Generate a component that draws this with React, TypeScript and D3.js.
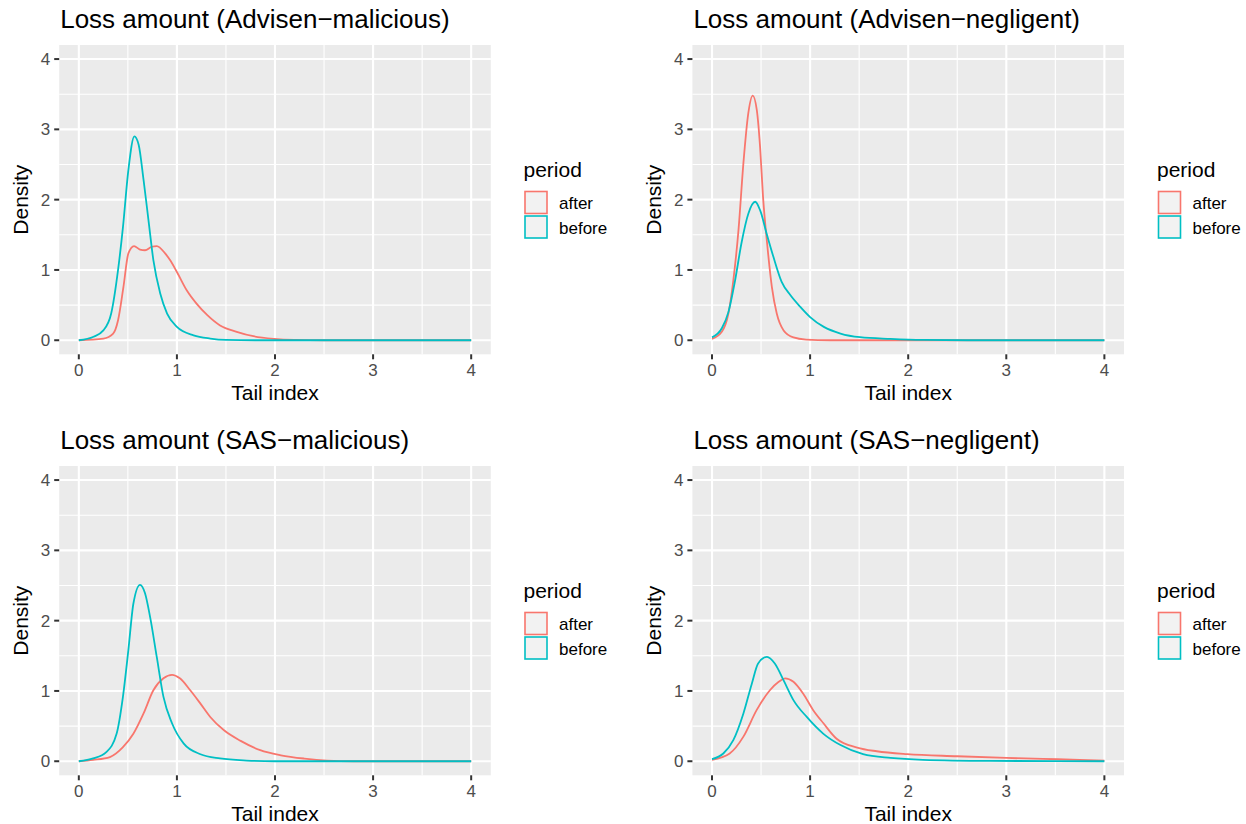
import React from "react";
import * as d3 from "d3";

type Pt = [number, number];

const titles = [
  "Loss amount (Advisen\u2212malicious)",
  "Loss amount (Advisen\u2212negligent)",
  "Loss amount (SAS\u2212malicious)",
  "Loss amount (SAS\u2212negligent)",
];

const seriesNames = ["after", "before"];
const seriesColors = ["#F8766D", "#00BFC4"];
const majorTicks = [0, 1, 2, 3, 4];
const minorTicks = [0.5, 1.5, 2.5, 3.5];

const advMalAfter: Pt[] = [
  [0, 0], [0.25, 0.024], [0.35, 0.095], [0.4, 0.285], [0.455, 0.76], [0.505, 1.235],
  [0.563, 1.34], [0.624, 1.29], [0.675, 1.28], [0.744, 1.33], [0.795, 1.34], [0.88, 1.235],
  [0.93, 1.14], [1.0, 0.97], [1.1, 0.71], [1.2, 0.52], [1.31, 0.356], [1.44, 0.21],
  [1.61, 0.12], [1.78, 0.057], [1.99, 0.02], [2.2, 0.005], [2.5, 0], [4, 0],
];
const advMalBefore: Pt[] = [
  [0, 0], [0.15, 0.05], [0.25, 0.14], [0.33, 0.38], [0.4, 1.0], [0.45, 1.61], [0.505, 2.42],
  [0.566, 2.9], [0.61, 2.78], [0.66, 2.28], [0.71, 1.71], [0.76, 1.14], [0.83, 0.665],
  [0.9, 0.38], [1.0, 0.19], [1.17, 0.07], [1.34, 0.024], [1.5, 0.005], [1.8, 0], [4, 0],
];
const advNegAfter: Pt[] = [
  [0, 0.02], [0.1, 0.12], [0.167, 0.38], [0.217, 0.85], [0.27, 1.57], [0.32, 2.52],
  [0.37, 3.23], [0.415, 3.48], [0.456, 3.28], [0.49, 2.75], [0.52, 2.04], [0.565, 1.33],
  [0.61, 0.76], [0.66, 0.38], [0.73, 0.14], [0.83, 0.04], [0.96, 0.01], [1.2, 0], [4, 0],
];
const advNegBefore: Pt[] = [
  [0, 0.04], [0.1, 0.17], [0.167, 0.4], [0.235, 0.85], [0.3, 1.38], [0.37, 1.8], [0.44, 1.97],
  [0.49, 1.85], [0.56, 1.5], [0.625, 1.19], [0.71, 0.83], [0.8, 0.64], [0.9, 0.475],
  [1.0, 0.33], [1.14, 0.19], [1.31, 0.095], [1.51, 0.043], [1.82, 0.02], [2.15, 0.005],
  [2.6, 0], [4, 0],
];
const sasMalAfter: Pt[] = [
  [0, 0], [0.146, 0.02], [0.317, 0.06], [0.45, 0.2], [0.556, 0.39], [0.66, 0.68], [0.76, 1.01],
  [0.863, 1.18], [0.95, 1.23], [1.03, 1.18], [1.136, 1.01], [1.24, 0.82], [1.34, 0.63],
  [1.48, 0.44], [1.65, 0.29], [1.85, 0.157], [2.06, 0.085], [2.3, 0.038], [2.53, 0.01],
  [2.8, 0], [4, 0],
];
const sasMalBefore: Pt[] = [
  [0, 0], [0.146, 0.04], [0.28, 0.13], [0.385, 0.39], [0.45, 0.92], [0.505, 1.58], [0.556, 2.24],
  [0.624, 2.51], [0.675, 2.39], [0.727, 2.05], [0.795, 1.48], [0.863, 0.915], [0.95, 0.54],
  [1.07, 0.25], [1.24, 0.1], [1.44, 0.04], [1.71, 0.01], [2.0, 0], [4, 0],
];
const sasNegAfter: Pt[] = [
  [0, 0.02], [0.18, 0.11], [0.32, 0.35], [0.456, 0.73], [0.59, 1.01], [0.68, 1.13], [0.745, 1.18],
  [0.83, 1.13], [0.93, 0.96], [1.03, 0.73], [1.136, 0.54], [1.27, 0.32], [1.48, 0.195],
  [1.68, 0.142], [1.99, 0.1], [2.5, 0.071], [3.0, 0.047], [3.52, 0.028], [4.0, 0.01],
];
const sasNegBefore: Pt[] = [
  [0, 0.03], [0.115, 0.11], [0.217, 0.3], [0.32, 0.68], [0.405, 1.1], [0.47, 1.39], [0.56, 1.485],
  [0.64, 1.39], [0.73, 1.15], [0.83, 0.87], [0.966, 0.63], [1.136, 0.39], [1.31, 0.23],
  [1.54, 0.1], [1.82, 0.047], [2.15, 0.02], [2.83, 0.005], [4, 0],
];

const panelData: Pt[][][] = [
  [advMalAfter, advMalBefore],
  [advNegAfter, advNegBefore],
  [sasMalAfter, sasMalBefore],
  [sasNegAfter, sasNegBefore],
];

const FONT = "'Liberation Sans', Arial, Helvetica, sans-serif";
const PW = 431.6;
const PH = 309.3;
const panelLefts = [59.2, 692.4];
const panelTops = [45, 466];
const legendLefts = [523.5, 1157];

function Panel({ idx }: { idx: number }) {
  const col = idx % 2;
  const row = Math.floor(idx / 2);
  const left = panelLefts[col];
  const top = panelTops[row];
  const x = d3.scaleLinear().domain([-0.2, 4.2]).range([left, left + PW]);
  const y = d3.scaleLinear().domain([-0.2, 4.2]).range([top + PH, top]);
  const line = d3
    .line<Pt>()
    .x((d) => x(d[0]))
    .y((d) => y(d[1]))
    .curve(d3.curveMonotoneX);
  const bottom = top + PH;
  const lx = legendLefts[col];
  const ly = top;
  return (
    <g>
      <text x={left + 1} y={top - 17} fontSize={26} fill="#000" fontFamily={FONT}>
        {titles[idx]}
      </text>
      <rect x={left} y={top} width={PW} height={PH} fill="#EBEBEB" />
      {minorTicks.map((t) => (
        <line key={"vx" + t} x1={x(t)} x2={x(t)} y1={top} y2={bottom} stroke="#fff" strokeWidth={1.1} />
      ))}
      {minorTicks.map((t) => (
        <line key={"hy" + t} x1={left} x2={left + PW} y1={y(t)} y2={y(t)} stroke="#fff" strokeWidth={1.1} />
      ))}
      {majorTicks.map((t) => (
        <line key={"VX" + t} x1={x(t)} x2={x(t)} y1={top} y2={bottom} stroke="#fff" strokeWidth={2.1} />
      ))}
      {majorTicks.map((t) => (
        <line key={"HY" + t} x1={left} x2={left + PW} y1={y(t)} y2={y(t)} stroke="#fff" strokeWidth={2.1} />
      ))}
      {panelData[idx].map((s, i) => (
        <path key={i} d={line(s) || ""} fill="none" stroke={seriesColors[i]} strokeWidth={1.8} />
      ))}
      {majorTicks.map((t) => (
        <g key={"yt" + t}>
          <line x1={left - 5} x2={left} y1={y(t)} y2={y(t)} stroke="#333333" strokeWidth={2} />
          <text x={left - 9} y={y(t)} dy="0.36em" textAnchor="end" fontSize={17} fill="#4D4D4D" fontFamily={FONT}>
            {t}
          </text>
        </g>
      ))}
      {majorTicks.map((t) => (
        <g key={"xt" + t}>
          <line x1={x(t)} x2={x(t)} y1={bottom} y2={bottom + 5} stroke="#333333" strokeWidth={2} />
          <text x={x(t)} y={bottom + 21.3} textAnchor="middle" fontSize={17} fill="#4D4D4D" fontFamily={FONT}>
            {t}
          </text>
        </g>
      ))}
      <text x={left + PW / 2} y={bottom + 46} textAnchor="middle" fontSize={21} fill="#000" fontFamily={FONT}>
        Tail index
      </text>
      <text
        transform={`translate(${left - 31},${top + PH / 2}) rotate(-90)`}
        textAnchor="middle"
        fontSize={21}
        fill="#000"
        fontFamily={FONT}
      >
        Density
      </text>
      <g>
        <text x={lx} y={ly + 132} fontSize={21} fill="#000" fontFamily={FONT}>
          period
        </text>
        {seriesNames.map((n, i) => (
          <g key={n}>
            <rect
              x={lx + 1.5}
              y={ly + 146.5 + i * 24.5}
              width={22}
              height={22}
              fill="#F2F2F2"
              stroke={seriesColors[i]}
              strokeWidth={1.6}
            />
            <text x={lx + 35.5} y={ly + 158 + i * 24.5} dy="0.36em" fontSize={17} fill="#000" fontFamily={FONT}>
              {n}
            </text>
          </g>
        ))}
      </g>
    </g>
  );
}

export default function App() {
  return (
    <div style={{ position: "absolute", left: 0, top: 0 }}>
      <svg width={1246} height={824} style={{ display: "block", background: "#fff" }}>
        {[0, 1, 2, 3].map((i) => (
          <Panel key={i} idx={i} />
        ))}
      </svg>
    </div>
  );
}
